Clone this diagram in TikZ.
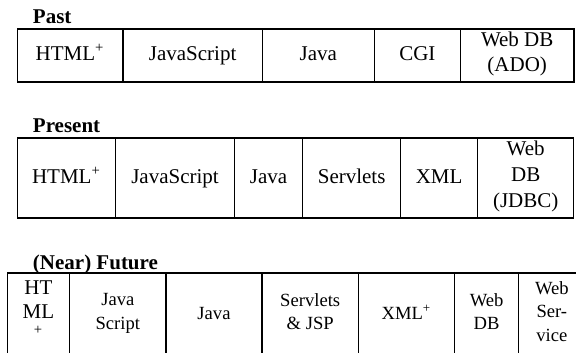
\documentclass[tikz,border=0pt]{standalone}
\usepackage{fontspec}
\setmainfont{Liberation Serif}
\usetikzlibrary{positioning}

\begin{document}
\begin{tikzpicture}[x=1pt, y=1pt, node distance=0pt, line width=0.65pt,
                    cell node/.style={rectangle,draw,inner sep=1pt,outer sep=0pt,align=center,
                                      execute at begin node=\strut,execute at end node=\strut,
                                      font=\fontsize{10.5}{12.8}\selectfont},
                    small node/.style={cell node,minimum height=42pt,
                                       font=\fontsize{9.3}{11.7}\selectfont},
                    title node/.style={anchor=base west,inner sep=0pt,
                                       font=\fontsize{10.5}{12.8}\selectfont\bfseries}]

  \clip (0,0) rectangle (288,176);

  % Past
  \node[title node] (past) at (16.15,164) {Past};
   \node[cell node,minimum height=26.5pt,minimum width=52.8pt,anchor=north west] (p1) at (8.65,161.5) {HTML\textsuperscript{+}};
    \node[cell node,minimum height=26.5pt,minimum width=69.7pt] (p2) [right=of p1] {JavaScript};
     \node[cell node,minimum height=26.5pt,minimum width=56pt] (p3) [right=of p2] {Java};
      \node[cell node,minimum height=26.5pt,minimum width=43.1pt] (p4) [right=of p3] {CGI};
       \node[cell node,minimum height=26.5pt,minimum width=56.7pt] (p5) [right=of p4] {Web DB\\(ADO)};

  % Present
  \node[title node] (present) at (16.15,109.85) {Present};
   \node[cell node,minimum height=40pt,minimum width=49.15pt,anchor=north west] (n1) at (8.65,107) {HTML\textsuperscript{+}};
    \node[cell node,minimum height=40pt,minimum width=59.45pt] (n2) [right=of n1] {JavaScript};
     \node[cell node,minimum height=40pt,minimum width=34.1pt] (n3) [right=of n2] {Java};
      \node[cell node,minimum height=40pt,minimum width=48.95pt] (n4) [right=of n3] {Servlets};
       \node[cell node,minimum height=40pt,minimum width=38.55pt] (n5) [right=of n4] {XML};
        \node[cell node,minimum height=40pt,minimum width=48pt] (n6) [right=of n5] {Web\\DB\\(JDBC)};

  % (Near) Future
  \node[title node] (future) at (16.15,41.35) {(Near) Future};
   \node[small node,minimum width=31.15pt,anchor=north west,
         font=\fontsize{10.5}{11.9}\selectfont] (f1) at (3.65,39.5) {HT\\ML\\\textsuperscript{+}};
    \node[small node,minimum width=48.2pt] (f2) [right=of f1] {Java\\Script};
     \node[small node,minimum width=48pt] (f3) [right=of f2] {Java};
      \node[small node,minimum width=48.2pt] (f4) [right=of f3] {Servlets\\\& JSP};
       \node[small node,minimum width=48.05pt] (f5) [right=of f4] {XML\textsuperscript{+}};
        \node[small node,minimum width=32.15pt] (f6) [right=of f5] {Web\\DB};
         \node[small node,minimum width=33pt] (f7) [right=of f6] {Web\\Ser-\\vice};

\end{tikzpicture}
\end{document}
